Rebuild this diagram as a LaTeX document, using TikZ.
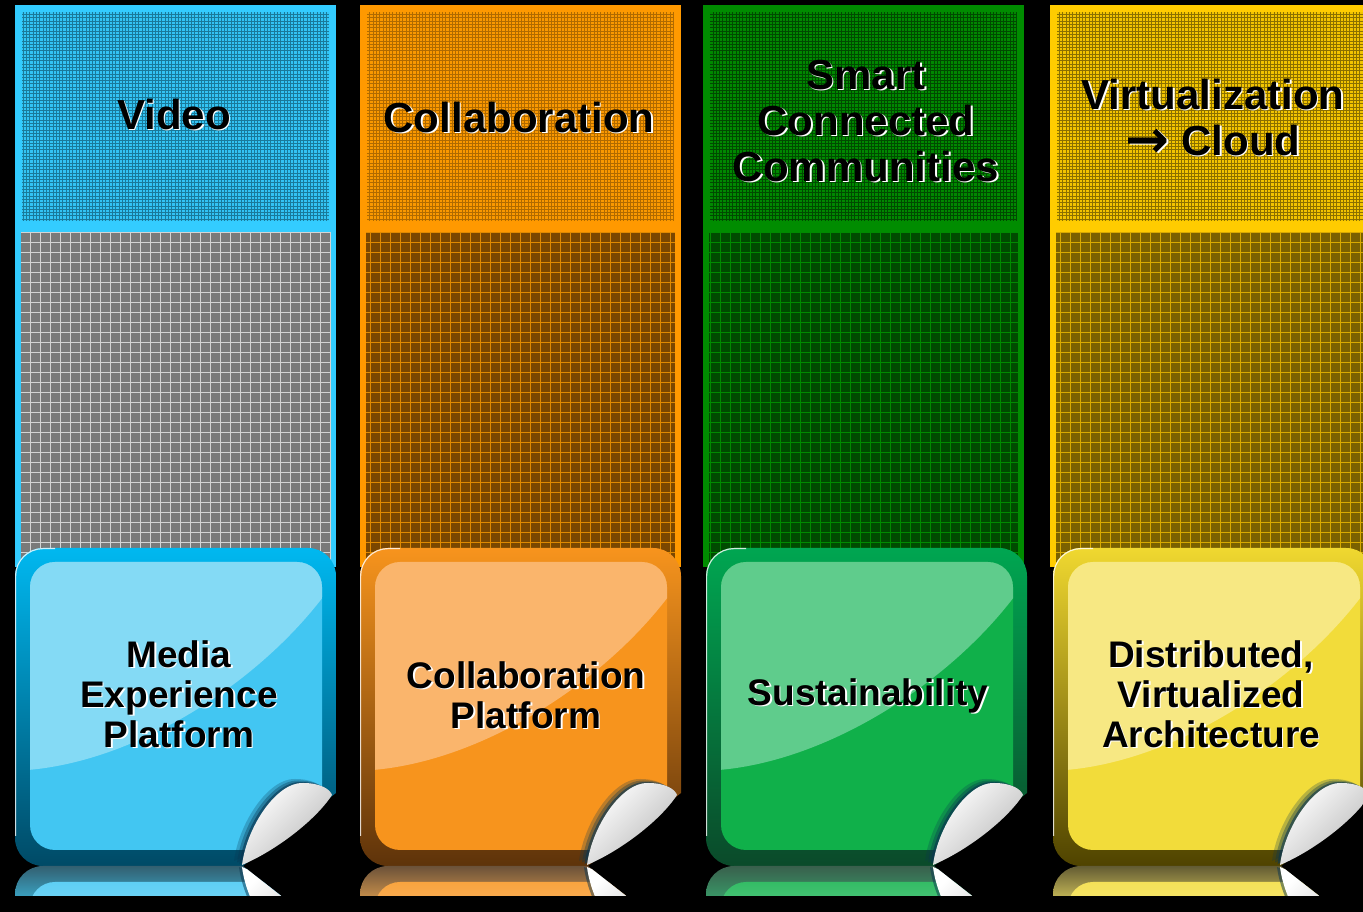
\documentclass[tikz,border=0pt]{standalone}
\usepackage{fontspec}
\setmainfont{Liberation Sans}
\newfontfamily\arrowfont{DejaVu Sans}
\usepackage{xcolor}
\usepackage{tikz}

% column colours
\definecolor{cyBorder}{HTML}{33CCFF}
\definecolor{cyHead}{HTML}{33C4F4}
\definecolor{cyHeadLine}{HTML}{1A7A9A}
\definecolor{cyMid}{HTML}{7A7A7A}
\definecolor{cyMidLine}{HTML}{D4D4D4}
\definecolor{cyRimTop}{HTML}{00B8F0}
\definecolor{cyRimBot}{HTML}{004A66}
\definecolor{cyFaceHi}{HTML}{84DAF5}
\definecolor{cyFaceLo}{HTML}{42C6F2}

\definecolor{orBorder}{HTML}{FF9900}
\definecolor{orHead}{HTML}{FA9800}
\definecolor{orHeadLine}{HTML}{B06A00}
\definecolor{orMid}{HTML}{7A4700}
\definecolor{orMidLine}{HTML}{E08A00}
\definecolor{orRimTop}{HTML}{F7941D}
\definecolor{orRimBot}{HTML}{5E330A}
\definecolor{orFaceHi}{HTML}{FAB56C}
\definecolor{orFaceLo}{HTML}{F7941D}

\definecolor{grBorder}{HTML}{008C00}
\definecolor{grHead}{HTML}{008800}
\definecolor{grHeadLine}{HTML}{004A00}
\definecolor{grMid}{HTML}{004A00}
\definecolor{grMidLine}{HTML}{008A00}
\definecolor{grRimTop}{HTML}{00A651}
\definecolor{grRimBot}{HTML}{0A4A2A}
\definecolor{grFaceHi}{HTML}{5FCC8C}
\definecolor{grFaceLo}{HTML}{10B04A}

\definecolor{yeBorder}{HTML}{FFCC00}
\definecolor{yeHead}{HTML}{F2C400}
\definecolor{yeHeadLine}{HTML}{8A7000}
\definecolor{yeMid}{HTML}{7A6100}
\definecolor{yeMidLine}{HTML}{D8AA00}
\definecolor{yeRimTop}{HTML}{F0D830}
\definecolor{yeRimBot}{HTML}{4F4300}
\definecolor{yeFaceHi}{HTML}{F7E883}
\definecolor{yeFaceLo}{HTML}{F2DC3A}

\definecolor{curlShadow}{HTML}{0A3550}

% sticker outline, bottom right corner peeled off
\newcommand\stickerpath{(0,28) -- (0,290) arc[start angle=180,end angle=90,radius=28]
  -- (293,318) arc[start angle=90,end angle=0,radius=28] -- (321,73) -- (228,0)
  -- (28,0) arc[start angle=270,end angle=180,radius=28] -- cycle}
\newcommand\curlpath{(227,1) .. controls (232,40) and (262,84) .. (288,83)
  .. controls (305,83) and (315,77) .. (317,71) .. controls (300,45) and (260,15) .. (227,1)}
% black text with a white drop shadow
\newcommand\embossed[1]{\rlap{\kern1.5pt\raisebox{-1.5pt}{\color{white}\begin{tabular}{@{}c@{}}#1\end{tabular}}}\begin{tabular}{@{}c@{}}#1\end{tabular}}

\begin{document}
\begin{tikzpicture}[x=1pt, y=1pt,
    head/.style = {font=\fontsize{42}{46}\selectfont\bfseries, inner sep=0pt},
    tag/.style = {font=\fontsize{37}{40}\selectfont\bfseries, inner sep=0pt},
    curl/.style = {top color=white, bottom color=gray!55, shading angle=45}]
  \clip (0,0) rectangle (1363,912);
  \fill[black] (0,0) rectangle (1363,912);

  \foreach \colx/\stx/\col in {15/15/cy, 360/360/or, 703/706/gr, 1050/1053/ye} {
    % column frame, header and grid
    \fill[fill=\col Border] (\colx,907) rectangle (\colx+321,345);
    \fill[fill=\col Head] (\colx+7,691) rectangle (\colx+314,900);
    \draw[draw=\col HeadLine, line width=0.45pt, step=3.3pt] (\colx+7,691) grid (\colx+314,900);
    \fill[fill=\col Mid] (\colx+6,345) rectangle (\colx+315,680);
    \draw[draw=\col MidLine, line width=0.7pt, step=10pt] (\colx+6,345) grid (\colx+315,680);

    % sticker
    \begin{scope}[shift={(\stx,46)}]
      \shade[top color=\col RimTop, bottom color=\col RimBot] \stickerpath;
      \begin{scope}
        \clip \stickerpath;
        \fill[fill=\col FaceLo, rounded corners=25] (15,16) rectangle (307,304);
        \begin{scope}
          \clip[rounded corners=25] (15,16) rectangle (307,304);
          \fill[fill=\col FaceHi] (0,96) -- (13,96) .. controls (120,105) and (240,180) .. (308,269)
            -- (321,318) -- (0,318) -- cycle;
        \end{scope}
        \fill[curlShadow, opacity=0.25, shift={(-8,4)}] \curlpath;
        \fill[curlShadow, opacity=0.35, shift={(-5,2.5)}] \curlpath;
        \fill[curlShadow, opacity=0.6, shift={(-2.5,1)}] \curlpath;
      \end{scope}
      \draw[white, line width=1.2pt, opacity=0.8] (0.6,30) -- (0.6,290) arc[start angle=180,end angle=90,radius=27.4] -- (40,317.4);
      \shade[curl] \curlpath;

      % reflection
      \begin{scope}
        \clip (-5,-30) rectangle (330,0);
        \clip[yscale=-1] \stickerpath;
        \shade[top color=\col RimBot!60!gray, bottom color=\col RimTop!55!gray] (-5,-30) rectangle (330,0);
        \shade[top color=\col FaceLo!85!white, bottom color=\col FaceHi, rounded corners=25] (15,-16) rectangle (307,-60);
        \fill[curlShadow, opacity=0.5, shift={(-3,0)}, yscale=-1] \curlpath;
        \shade[curl, yscale=-1] \curlpath;
      \end{scope}
    \end{scope}
  }

  % headers
  \node[head] (video) at (174,791) {\embossed{Video}};
  \node[head] (collab) at (519,788) {\embossed{Collaboration}};
  \node[head] (smart) at (866,785) {\embossed{Smart\\Connected\\Communities}};
  \node[head] (virt) at (1213,788) {\embossed{Virtualization\\\raisebox{-2pt}{\scalebox{1.25}{\arrowfont\bfseries →}} Cloud}};

  % sticker labels
  \node[tag] (mep) at (179,212) {\embossed{Media\\Experience\\Platform}};
  \node[tag] (cp) at (526,211) {\embossed{Collaboration\\Platform}};
  \node[tag] (sust) at (868,214) {\embossed{Sustainability}};
  \node[tag] (dva) at (1211,212) {\embossed{Distributed,\\Virtualized\\Architecture}};
\end{tikzpicture}
\end{document}
